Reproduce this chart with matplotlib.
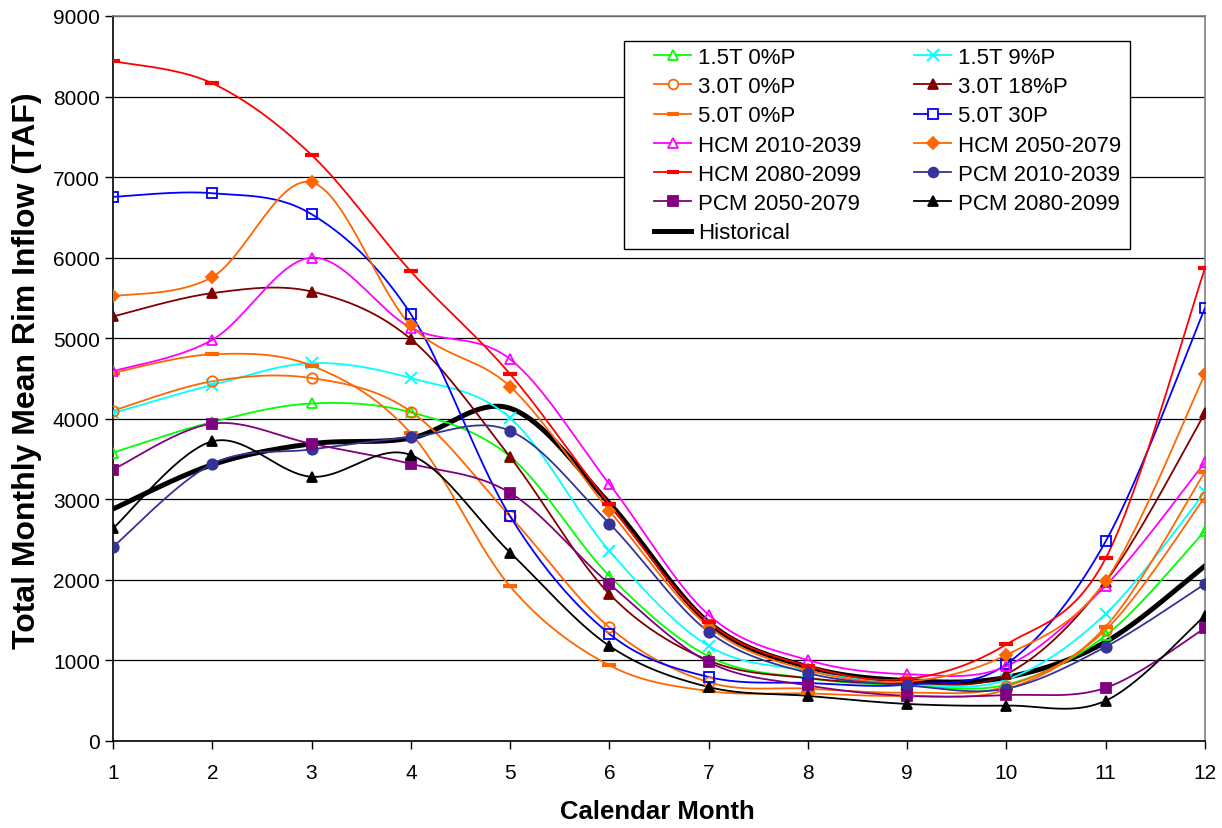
import numpy as np
import matplotlib
matplotlib.use("Agg")
import matplotlib.pyplot as plt
from matplotlib.lines import Line2D
from matplotlib.patches import Rectangle

plt.rcParams['font.family'] = ['Liberation Sans', 'DejaVu Sans']

months = [1, 2, 3, 4, 5, 6, 7, 8, 9, 10, 11, 12]

labels = ["1.5T 0%P", "1.5T 9%P", "3.0T 0%P", "3.0T 18%P", "5.0T 0%P", "5.0T 30P",
          "HCM 2010-2039", "HCM 2050-2079", "HCM 2080-2099", "PCM 2010-2039",
          "PCM 2050-2079", "PCM 2080-2099", "Historical"]

t15_p0 = [3580, 3960, 4190, 4080, 3530, 2050, 1050, 780, 690, 700, 1310, 2610]
t15_p9 = [4070, 4420, 4690, 4505, 4010, 2360, 1180, 870, 710, 760, 1580, 3090]
t30_p0 = [4100, 4465, 4505, 4090, 2790, 1410, 730, 650, 600, 680, 1380, 3030]
t30_p18 = [5270, 5560, 5580, 4990, 3525, 1825, 1000, 780, 720, 830, 1980, 4070]
t50_p0 = [4570, 4800, 4660, 3820, 1920, 940, 620, 590, 560, 640, 1420, 3340]
t50_p30 = [6755, 6800, 6540, 5300, 2790, 1330, 795, 720, 700, 955, 2480, 5375]
hcm_2010 = [4590, 4980, 6000, 5130, 4740, 3190, 1565, 1005, 830, 930, 1930, 3460]
hcm_2050 = [5520, 5760, 6935, 5160, 4400, 2860, 1420, 880, 740, 1070, 1990, 4555]
hcm_2080 = [8440, 8165, 7275, 5830, 4555, 2940, 1475, 930, 770, 1200, 2270, 5870]
pcm_2010 = [2410, 3440, 3620, 3770, 3850, 2700, 1355, 845, 690, 650, 1170, 1950]
pcm_2050 = [3370, 3940, 3690, 3440, 3080, 1950, 980, 690, 560, 570, 660, 1400]
pcm_2080 = [2640, 3720, 3280, 3550, 2340, 1180, 670, 560, 460, 440, 500, 1555]
historical = [2880, 3430, 3690, 3760, 4130, 2950, 1470, 920, 750, 790, 1230, 2175]

series = [t15_p0, t15_p9, t30_p0, t30_p18, t50_p0, t50_p30, hcm_2010, hcm_2050,
          hcm_2080, pcm_2010, pcm_2050, pcm_2080, historical]

# style: (color, marker, filled)
styles = [
    ("#00FF00", "^", False),
    ("#00FFFF", "x", False),
    ("#FF6600", "o", False),
    ("#800000", "^", True),
    ("#FF6600", "_", True),
    ("#0000FF", "s", False),
    ("#FF00FF", "^", False),
    ("#FF6600", "D", True),
    ("#FF0000", "_", True),
    ("#333399", "o", True),
    ("#800080", "s", True),
    ("#000000", "^", True),
    ("#000000", None, True),
]


def excel_smooth(x, y, n=40):
    x = np.asarray(x, float)
    y = np.asarray(y, float)
    P = np.column_stack([x, y])
    m = len(P)
    out = []
    for i in range(m - 1):
        pm = P[i - 1] if i > 0 else P[i]
        p0 = P[i]
        p1 = P[i + 1]
        p2 = P[i + 2] if i + 2 < m else P[i + 1]
        c1 = p0 + (p1 - pm) / 6.0
        c2 = p1 - (p2 - p0) / 6.0
        t = np.linspace(0, 1, n)[:, None]
        seg = ((1 - t) ** 3) * p0 + 3 * ((1 - t) ** 2) * t * c1 + 3 * (1 - t) * t ** 2 * c2 + t ** 3 * p1
        if i > 0:
            seg = seg[1:]
        out.append(seg)
    out = np.vstack(out)
    return out[:, 0], out[:, 1]


W, H = 1222, 829
fig = plt.figure(figsize=(W / 100, H / 100), dpi=100)
ax = fig.add_axes([113 / W, 1 - 742 / H, (1205 - 113) / W, (742 - 17) / H])

MS = 7.5
handles = []
for data, lab, (col, mk, filled) in zip(series, labels, styles):
    sx, sy = excel_smooth(months, data)
    lw = 3.6 if lab == "Historical" else 1.3
    ax.plot(sx, sy, color=col, lw=lw, zorder=3 if lab != "Historical" else 2.5)
    if mk is not None:
        if mk == "_":
            ax.plot(months, data, ls="none", marker=mk, ms=9.5, mew=3, color=col, zorder=4)
        elif mk == "x":
            ax.plot(months, data, ls="none", marker=mk, ms=8.5, mew=1.4, color=col, zorder=4)
        else:
            ms = MS if mk != "D" else 6.5
            ax.plot(months, data, ls="none", marker=mk, ms=ms, mew=1.3,
                    mec=col, mfc=col if filled else "none", color=col, zorder=4)
    if mk is None:
        h = Line2D([], [], color=col, lw=3.6)
    elif mk == "_":
        h = Line2D([], [], color=col, lw=1.3, marker=mk, ms=9, mew=3)
    elif mk == "x":
        h = Line2D([], [], color=col, lw=1.3, marker=mk, ms=8, mew=1.4)
    else:
        h = Line2D([], [], color=col, lw=1.3, marker=mk, ms=7 if mk != "D" else 6, mew=1.3,
                   mec=col, mfc=col if filled else "white")
    handles.append(h)

ax.set_xlim(1, 12)
ax.set_ylim(0, 9000)
ax.set_xticks(months)
ax.set_yticks(np.arange(0, 9001, 1000))
ax.yaxis.grid(True, color="#000000", lw=0.9, zorder=0)
ax.set_axisbelow(True)
for s in ["top", "right"]:
    ax.spines[s].set_color("#808080")
    ax.spines[s].set_linewidth(1.2)
for s in ["left", "bottom"]:
    ax.spines[s].set_color("#000000")
    ax.spines[s].set_linewidth(1.2)
ax.tick_params(axis="both", direction="out", length=6, width=1, labelsize=15, colors="black")
ax.tick_params(axis="x", pad=10)
ax.set_xlabel("Calendar Month", fontsize=18.5, fontweight="bold")
ax.set_ylabel("Total Monthly Mean Rim Inflow (TAF)", fontsize=23, fontweight="bold")
ax.xaxis.set_label_coords((657 - 113) / 1092, (742 - 800) / 725)
ax.yaxis.set_label_coords((42 - 113) / 1092, (742 - 371) / 725)

# legend frame (drawn manually for exact extent)
fig.patches.append(Rectangle((624 / W, 1 - 250 / H), (1130 - 624) / W, (250 - 42) / H,
                             transform=fig.transFigure, facecolor="white",
                             edgecolor="black", lw=1.0, zorder=5))

order = [0, 2, 4, 6, 8, 10, 12, 1, 3, 5, 7, 9, 11]
leg = fig.legend([handles[i] for i in order], [labels[i] for i in order],
                 loc="upper left", bbox_to_anchor=(654 / W, 1 - 48 / H), ncol=2,
                 fontsize=16, frameon=False, handlelength=1.67, handletextpad=0.3,
                 columnspacing=2.4, labelspacing=0.37, borderaxespad=0, borderpad=0)
leg.set_zorder(6)

fig.savefig("out.png", dpi=100)
